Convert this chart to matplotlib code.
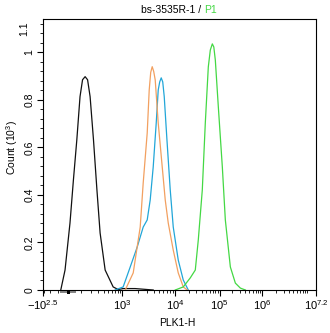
import numpy as np
import matplotlib
matplotlib.use("Agg")
import matplotlib.pyplot as plt
from matplotlib.patches import Rectangle
from matplotlib.ticker import FixedLocator, MultipleLocator

plt.rcParams['font.family'] = ['Liberation Sans', 'DejaVu Sans']
plt.rcParams['mathtext.default'] = 'regular'

# histogram curves (x in PLK1-H units, y in Count x 10^3)
black_x = [-67, -27, 14, 39, 65, 91, 113, 137, 162, 190, 232, 281, 333, 432, 644, 822, 1044, 1760, 3850]
black_y = [0, 0.084, 0.282, 0.463, 0.632, 0.814, 0.885, 0.898, 0.885, 0.814, 0.632, 0.421, 0.240, 0.084,
           0.013, 0.002, 0.006, 0.006, 0]

orange_x = [1144, 1619, 2193, 2498, 2971, 3240, 3458, 3690, 3937, 4203, 4787, 5693, 6485, 7386, 9173,
            11686, 15160, 18670]
orange_y = [0, 0.072, 0.265, 0.451, 0.661, 0.842, 0.916, 0.940, 0.920, 0.884, 0.703, 0.518, 0.379, 0.282,
            0.168, 0.072, 0.013, 0]

blue_x = [711, 1044, 1421, 1926, 2498, 2971, 3383, 3853, 4390, 4787, 5108, 5450, 5818, 6209, 6983, 8054,
          9173, 11686, 15160, 19660]
blue_y = [0, 0.013, 0.097, 0.181, 0.265, 0.295, 0.379, 0.518, 0.703, 0.842, 0.876, 0.893, 0.876, 0.814,
          0.632, 0.421, 0.265, 0.126, 0.042, 0]

green_x = [10003, 15160, 21810, 28290, 33070, 40700, 47570, 55600, 61660, 68450, 73960, 80000, 93480,
           115800, 136300, 178900, 234700, 307900, 403800]
green_y = [0, 0.013, 0.051, 0.084, 0.211, 0.421, 0.703, 0.939, 1.010, 1.036, 1.023, 0.968, 0.771, 0.518,
           0.295, 0.097, 0.029, 0.008, 0]

xtick_vals = [-10 ** 2.5, 1e3, 1e4, 1e5, 1e6, 10 ** 7.2]
xtick_labels = [r'$-10^{2.5}$', r'$10^3$', r'$10^4$', r'$10^5$', r'$10^6$', r'$10^{7.2}$']
ytick_vals = [0, 0.2, 0.4, 0.6, 0.8, 1.0]
ytick_labels = ['0', '0.2', '0.4', '0.6', '0.8', '1']

# biexponential-like display scale (asinh, then piecewise channel breakpoints)
W = 150.0
U_BREAK = [-0.647, 0.0, 1.127, 2.125, 3.125, 4.125, 5.325]
C_BREAK = [0.0, 25.0, 79.0, 132.0, 176.3, 218.7, 272.5]


def fwd(x):
    u = np.arcsinh(np.asarray(x, dtype=float) / W) / np.log(10)
    return np.interp(u, U_BREAK, C_BREAK)


def inv(c):
    u = np.interp(np.asarray(c, dtype=float), C_BREAK, U_BREAK)
    return W * np.sinh(u * np.log(10))


fig = plt.figure(figsize=(3.3, 3.33), dpi=100)
ax = fig.add_axes([43 / 330, 43 / 333, 273 / 330, 271.3 / 333])
ax.set_xscale('function', functions=(fwd, inv))

lw = 0.9
ax.plot(black_x, black_y, color='#111111', lw=lw)
ax.plot(blue_x, blue_y, color='#22A6D8', lw=lw)
ax.plot(orange_x, orange_y, color='#F2A060', lw=lw)
ax.plot(green_x, green_y, color='#44D844', lw=lw)

ax.set_xlim(-10 ** 2.5, 10 ** 7.2)
ax.set_ylim(0, 1.142)

# ticks
ax.xaxis.set_major_locator(FixedLocator(xtick_vals))
ax.set_xticklabels(xtick_labels)
minor_x = [-300, -200, -100]
for e in range(2, 7):
    for k in range(1, 10):
        v = k * 10 ** e
        if v not in (1e3, 1e4, 1e5, 1e6) and v < 10 ** 7.2:
            minor_x.append(v)
minor_x += [1e7]
ax.xaxis.set_minor_locator(FixedLocator(minor_x))

ax.yaxis.set_major_locator(FixedLocator(ytick_vals))
ax.set_yticklabels(ytick_labels, rotation=90, va='center')
ax.yaxis.set_minor_locator(MultipleLocator(0.04))
ax.text(-0.05, 1.1, '1.1', rotation=90, va='center', ha='right', fontsize=7.5,
        transform=ax.get_yaxis_transform())

ax.tick_params(which='major', length=4, width=0.8, direction='out', pad=2)
ax.tick_params(axis='x', labelsize=8)
ax.tick_params(axis='y', labelsize=7.5)
ax.tick_params(which='minor', length=2, width=0.6, direction='out')
for s in ax.spines.values():
    s.set_linewidth(0.8)

# zero-region marker under the axis
tr = ax.get_xaxis_transform()
ax.add_patch(Rectangle((-74, -0.012), 133, 0.01, transform=tr, color='#888888', clip_on=False, lw=0))
ax.add_patch(Rectangle((-5, -0.014), 18, 0.013, transform=tr, color='#000000', clip_on=False, lw=0))

# labels and title
fig.text(177 / 330, 9.5 / 333, 'PLK1-H', ha='center', va='center', fontsize=7.5)
fig.text(12 / 330, 185 / 333, r'Count (10$^3$)', ha='center', va='center', rotation=90, fontsize=7.5)
fig.text(201 / 330, 323 / 333, 'bs-3535R-1 /', ha='right', va='center', fontsize=7.5)
fig.text(204 / 330, 323 / 333, 'P1', ha='left', va='center', fontsize=7.5, color='#44D844')

fig.savefig('out.png', dpi=100)
